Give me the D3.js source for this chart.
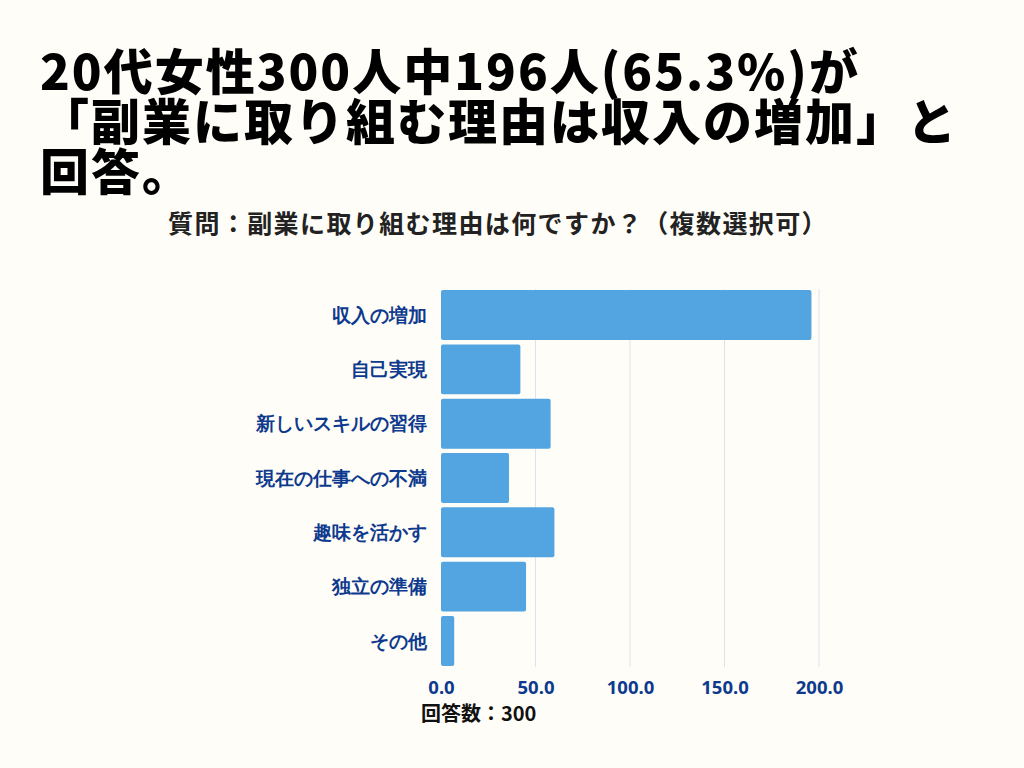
<!DOCTYPE html>
<html lang="ja">
<head>
<meta charset="utf-8">
<script src="https://cdn.jsdelivr.net/npm/d3@7/dist/d3.min.js"></script>
<style>
  html, body { margin: 0; padding: 0; background: #fffdf7; }
  svg { display: block; font-family: "Noto Sans CJK JP", "Noto Sans", sans-serif; }
  .title { font-size: 49px; font-weight: 900; fill: #000; letter-spacing: 2px; }
  .subtitle { font-size: 25px; font-weight: 700; fill: #222; letter-spacing: 1.4px; }
  .cat-label { font-size: 19px; font-weight: 700; fill: #0d3a8e; }
  .tick-text { font-size: 18.5px; font-weight: 700; fill: #0d3a8e; font-family: "Noto Sans", "Noto Sans CJK JP", sans-serif; }
  .grid-line { stroke: #dde2ec; stroke-width: 1; }
  .note { font-size: 20px; font-weight: 700; fill: #111; }
</style>
</head>
<body>
<svg id="chart" width="1024" height="768"></svg>
<script>
// ── DATA ────────────────────────────────────────────────────────────────
const titleLines = [
  '20代女性300人中196人(65.3%)が',
  '「副業に取り組む理由は収入の増加」と',
  '回答。'
];
const subtitle = '質問：副業に取り組む理由は何ですか？（複数選択可）';
const categories = ['収入の増加', '自己実現', '新しいスキルの習得', '現在の仕事への不満', '趣味を活かす', '独立の準備', 'その他'];
const counts = [196, 42, 58, 36, 60, 45, 7];
const tickValues = [0, 50, 100, 150, 200];
const note = '回答数：300';

// ── CHART ───────────────────────────────────────────────────────────────
const svg = d3.select('#chart');
svg.append('rect').attr('width', 1024).attr('height', 768).attr('fill', '#fffdf7');

// title: one text block, one tspan per line
svg.append('text').attr('class', 'title')
  .selectAll('tspan')
  .data(titleLines)
  .join('tspan')
  .attr('x', 40).attr('y', (d, i) => 90 + i * 50)
  .text(d => d);

svg.append('text').attr('class', 'subtitle')
  .attr('x', 498).attr('y', 233)
  .attr('text-anchor', 'middle')
  .text(subtitle);

const x = d3.scaleLinear().domain([0, 200]).range([441, 819]);
const y = d3.scaleBand().domain(categories).range([289, 667])
  .paddingInner(0.08).paddingOuter(0.02);

// grid
svg.append('g')
  .selectAll('line')
  .data(tickValues.slice(1))
  .join('line').attr('class', 'grid-line')
  .attr('x1', d => x(d)).attr('x2', d => x(d))
  .attr('y1', y.range()[0]).attr('y2', y.range()[1]);

// bars
svg.append('g')
  .selectAll('rect')
  .data(categories)
  .join('rect')
  .attr('x', x(0))
  .attr('y', d => y(d))
  .attr('width', (d, i) => x(counts[i]) - x(0))
  .attr('height', y.bandwidth())
  .attr('rx', 2)
  .attr('fill', '#52a5e0');

// category labels
const yAxis = svg.append('g')
  .attr('transform', `translate(${x(0) - 14},0)`)
  .call(d3.axisLeft(y).tickSize(0).tickPadding(0));
yAxis.select('.domain').remove();
yAxis.selectAll('text').attr('class', 'cat-label').attr('dy', '0.35em');

// value axis
const xAxis = svg.append('g')
  .attr('transform', `translate(0,${y.range()[1]})`)
  .call(d3.axisBottom(x).tickValues(tickValues).tickFormat(d3.format('.1f')).tickSize(0).tickPadding(10));
xAxis.select('.domain').remove();
xAxis.selectAll('text').attr('class', 'tick-text').attr('dy', '0.9em');

svg.append('text').attr('class', 'note')
  .attr('x', 421).attr('y', 721)
  .text(note);
</script>
</body>
</html>
